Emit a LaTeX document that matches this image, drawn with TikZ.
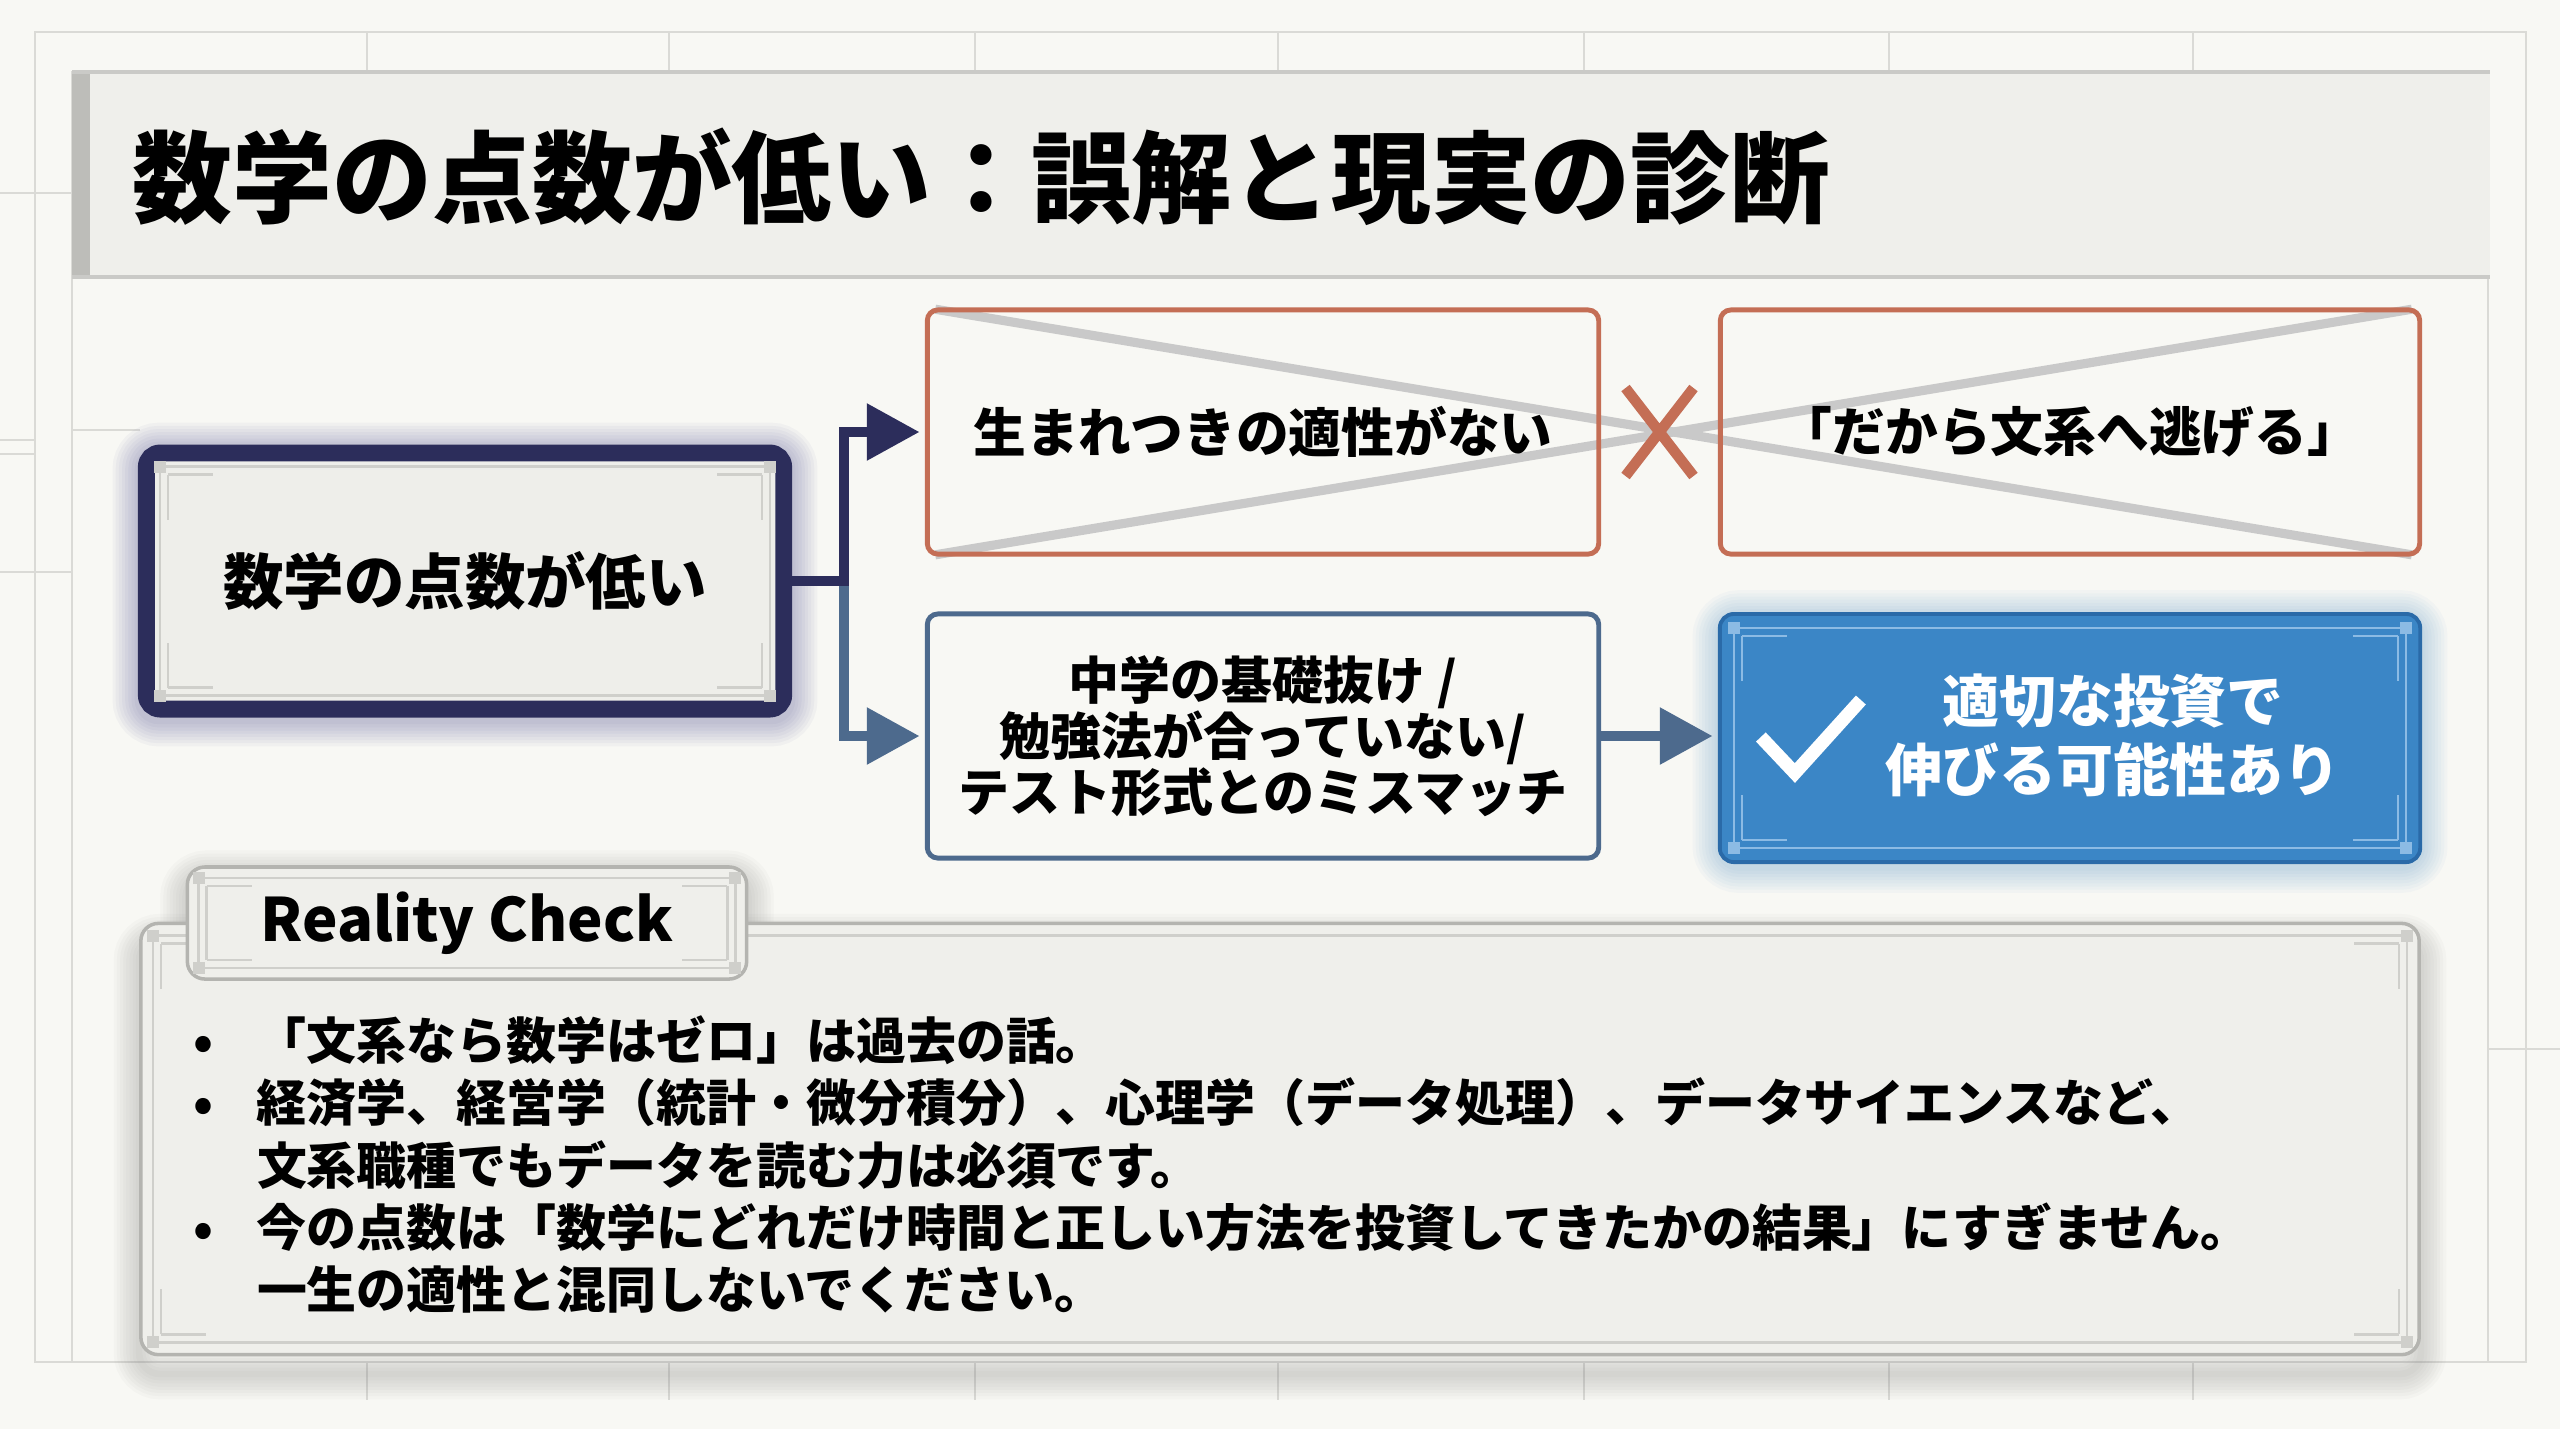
\documentclass[tikz,border=0pt]{standalone}
\usepackage{fontspec}
\setmainfont{Noto Sans CJK JP}
\usetikzlibrary{calc,positioning,arrows.meta}
\definecolor{pagebg}{HTML}{F8F8F4}
\definecolor{gridgrey}{HTML}{DADAD6}
\definecolor{titlefill}{HTML}{EFEFEB}
\definecolor{titlebar}{HTML}{BDBDB9}
\definecolor{navy}{HTML}{2C2D5B}
\definecolor{lowfill}{HTML}{EEEEEA}
\definecolor{trimgrey}{HTML}{CFCFCB}
\definecolor{rust}{HTML}{C46E55}
\definecolor{crossgrey}{HTML}{C9C9C9}
\definecolor{steel}{HTML}{4D6A8D}
\definecolor{hopeblue}{HTML}{3B86C6}
\definecolor{hopeedge}{HTML}{2A6AA8}
\definecolor{hopetrim}{HTML}{8CBBE4}
\definecolor{panelfill}{HTML}{EFEFEB}
\definecolor{panelline}{HTML}{B4B4B0}

\pgfdeclarelayer{bg}
\pgfsetlayers{bg,main}

% inner frame with corner squares: node, inset, colour
\newcommand{\trimbox}[3]{%
  \draw[#3, line width=0.7pt] ([shift={(#2,#2)}]#1.north west) rectangle ([shift={(-#2,-#2)}]#1.south east);
  \foreach \sx/\sy/\cn in {1/1/north west,-1/1/north east,1/-1/south west,-1/-1/south east}{
    \fill[#3] ([shift={(\sx*#2-6,\sy*#2-6)}]#1.\cn) rectangle ++(12,12);
    \draw[#3, line width=0.7pt] ([shift={(\sx*#2+\sx*8,\sy*#2+\sy*8)}]#1.\cn) -- ++(\sx*45,0);
    \draw[#3, line width=0.7pt] ([shift={(\sx*#2+\sx*8,\sy*#2+\sy*8)}]#1.\cn) -- ++(0,\sy*45);
  }}
% soft glow behind a node: node, colour, drop (pt)
\newcommand{\softglow}[3]{%
  \foreach \w in {1,...,8}
    \draw[#2, opacity=0.035, line width=\w*1.8pt, rounded corners=6pt] ([yshift=-#3]#1.north west) rectangle ([yshift=-#3]#1.south east);}
\newcommand{\bitem}{\makebox[18pt][l]{•}}

\begin{document}
\begin{tikzpicture}[x=0.01cm, y=-0.01cm, every node/.style={font=\bfseries},
  gridline/.style={gridgrey, line width=0.6pt},
  myth/.style={draw=rust, line width=1.4pt, rounded corners=3pt, minimum width=6.71cm, minimum height=2.44cm, inner sep=0pt, font=\bfseries\fontsize{15}{18}\selectfont},
  crossline/.style={crossgrey, line width=2.6pt, shorten <=3pt, shorten >=3pt},
  tip/.style={-{Triangle[length=15pt, width=15.5pt]}, shorten >=1.5pt},
  card/.style={fill=panelfill, draw=panelline, line width=1pt, rounded corners=5pt, inner sep=0pt}]
  \useasboundingbox (0,0) rectangle (2560,1429);

  % Page
  \begin{pgfonlayer}{bg}
  \fill[pagebg] (0,0) rectangle (2560,1429);
  \draw[gridline] (35,32) rectangle (2526,1362);
  \foreach \gx in {367,669,975,1278,1584,1889,2193} {
    \draw[gridline] (\gx,32) -- (\gx,72);
    \draw[gridline] (\gx,1362) -- (\gx,1400);
  }
  \draw[gridline] (0,193) -- (72,193) (0,572) -- (72,572) (0,440) -- (35,440) (0,454) -- (35,454);
  \draw[gridline] (2488,1049) -- (2560,1049) (2437,1049) -- (2437,1362);
  \fill[pagebg, draw=gridgrey, line width=0.6pt] (72,72) rectangle (2488,1362);
  \draw[gridline] (72,430) -- (140,430);
  \end{pgfonlayer}

  % Title
  \fill[titlefill] (72,72) rectangle (2490,277);
  \fill[titlebar] (72,72) rectangle (90,277);
  \draw[titlebar!80, line width=0.9pt] (72,72) -- (2490,72) (72,277) -- (2490,277);
  \node[anchor=west, inner sep=0pt, font=\bfseries\fontsize{28.4}{32}\selectfont] (title) at (132,177) {数学の点数が低い：誤解と現実の診断};

  % Boxes
  \node[draw=navy, line width=4.8pt, fill=lowfill, rounded corners=4pt, minimum width=6.37cm, minimum height=2.56cm,
    font=\bfseries\fontsize{17.2}{20}\selectfont] (low) at (465,581) {数学の点数が低い};
  \trimbox{low}{22}{trimgrey}
  \node[myth] (myth1) at (1263,432) {生まれつきの適性がない};
  \node[myth, minimum width=6.99cm] (myth2) at (2070,432) {「だから文系へ逃げる」};
  \node[myth, draw=steel, align=center, font=\bfseries\fontsize{14.5}{15.9}\selectfont] (cause) at (1263,736)
    {中学の基礎抜け /\\勉強法が合っていない/\\テスト形式とのミスマッチ};
  \node[fill=hopeblue, draw=hopeedge, line width=1.1pt, rounded corners=4pt, minimum width=7cm, minimum height=2.48cm] (hope) at (2070,738) {};
  \trimbox{hope}{16}{hopetrim}
  \node[text=white, align=center, font=\bfseries\fontsize{16.2}{19.6}\selectfont] (hopetxt) at ($(hope.center)+(43,-3)$)
    {適切な投資で\\伸びる可能性あり};
  \draw[white, line width=3.8pt] ($(hope.west)+(43,-1)$) -- ($(hope.west)+(77,35)$) -- ($(hope.west)+(143,-38)$);

  % Crossed-out path
  \begin{pgfonlayer}{bg}
  \draw[crossline] (myth1.north west) -- (myth2.south east);
  \draw[crossline] (myth1.south west) -- (myth2.north east);
  \end{pgfonlayer}
  \coordinate (cross) at ($(myth1.east)!0.5!(myth2.west)$);
  \draw[rust, line width=3pt] ($(cross)+(-34,-44)$) -- ($(cross)+(34,44)$) ($(cross)+(34,-44)$) -- ($(cross)+(-34,44)$);

  % Arrows
  \coordinate (j) at ($(low.east)+(52,0)$);
  \draw[steel, line width=3pt, tip] (j) |- (cause.west);
  \draw[navy, line width=3pt, tip] (low.east) -- (j) |- (myth1.west);
  \draw[steel, line width=3pt, tip] (cause.east) -- (cause.east -| hope.west);

  % Reality check
  \node[card, minimum width=22.77cm, minimum height=4.31cm] (panel) at (1280,1139) {};
  \trimbox{panel}{14}{trimgrey}
  \node[card, minimum width=5.59cm, minimum height=1.12cm, font=\bfseries\fontsize{17}{20}\selectfont] (tab) at (467,923) {Reality Check};
  \trimbox{tab}{13}{trimgrey}
  \node[anchor=north west, inner sep=0pt, align=left, font=\bfseries\fontsize{14.2}{17.7}\selectfont] (notes) at (193,1015) {%
    \bitem「文系なら数学はゼロ」は過去の話。\\
    \bitem 経済学、経営学（統計・微分積分）、心理学（データ処理）、データサイエンスなど、\\
    \hspace*{18pt}文系職種でもデータを読む力は必須です。\\
    \bitem 今の点数は「数学にどれだけ時間と正しい方法を投資してきたかの結果」にすぎません。\\
    \hspace*{18pt}一生の適性と混同しないでください。};

  % Shadows
  \begin{pgfonlayer}{bg}
  \softglow{low}{navy!80!blue}{1pt}
  \softglow{hope}{hopeblue}{1pt}
  \softglow{panel}{black!55}{5pt}
  \softglow{tab}{black!55}{3pt}
  \end{pgfonlayer}
\end{tikzpicture}
\end{document}
